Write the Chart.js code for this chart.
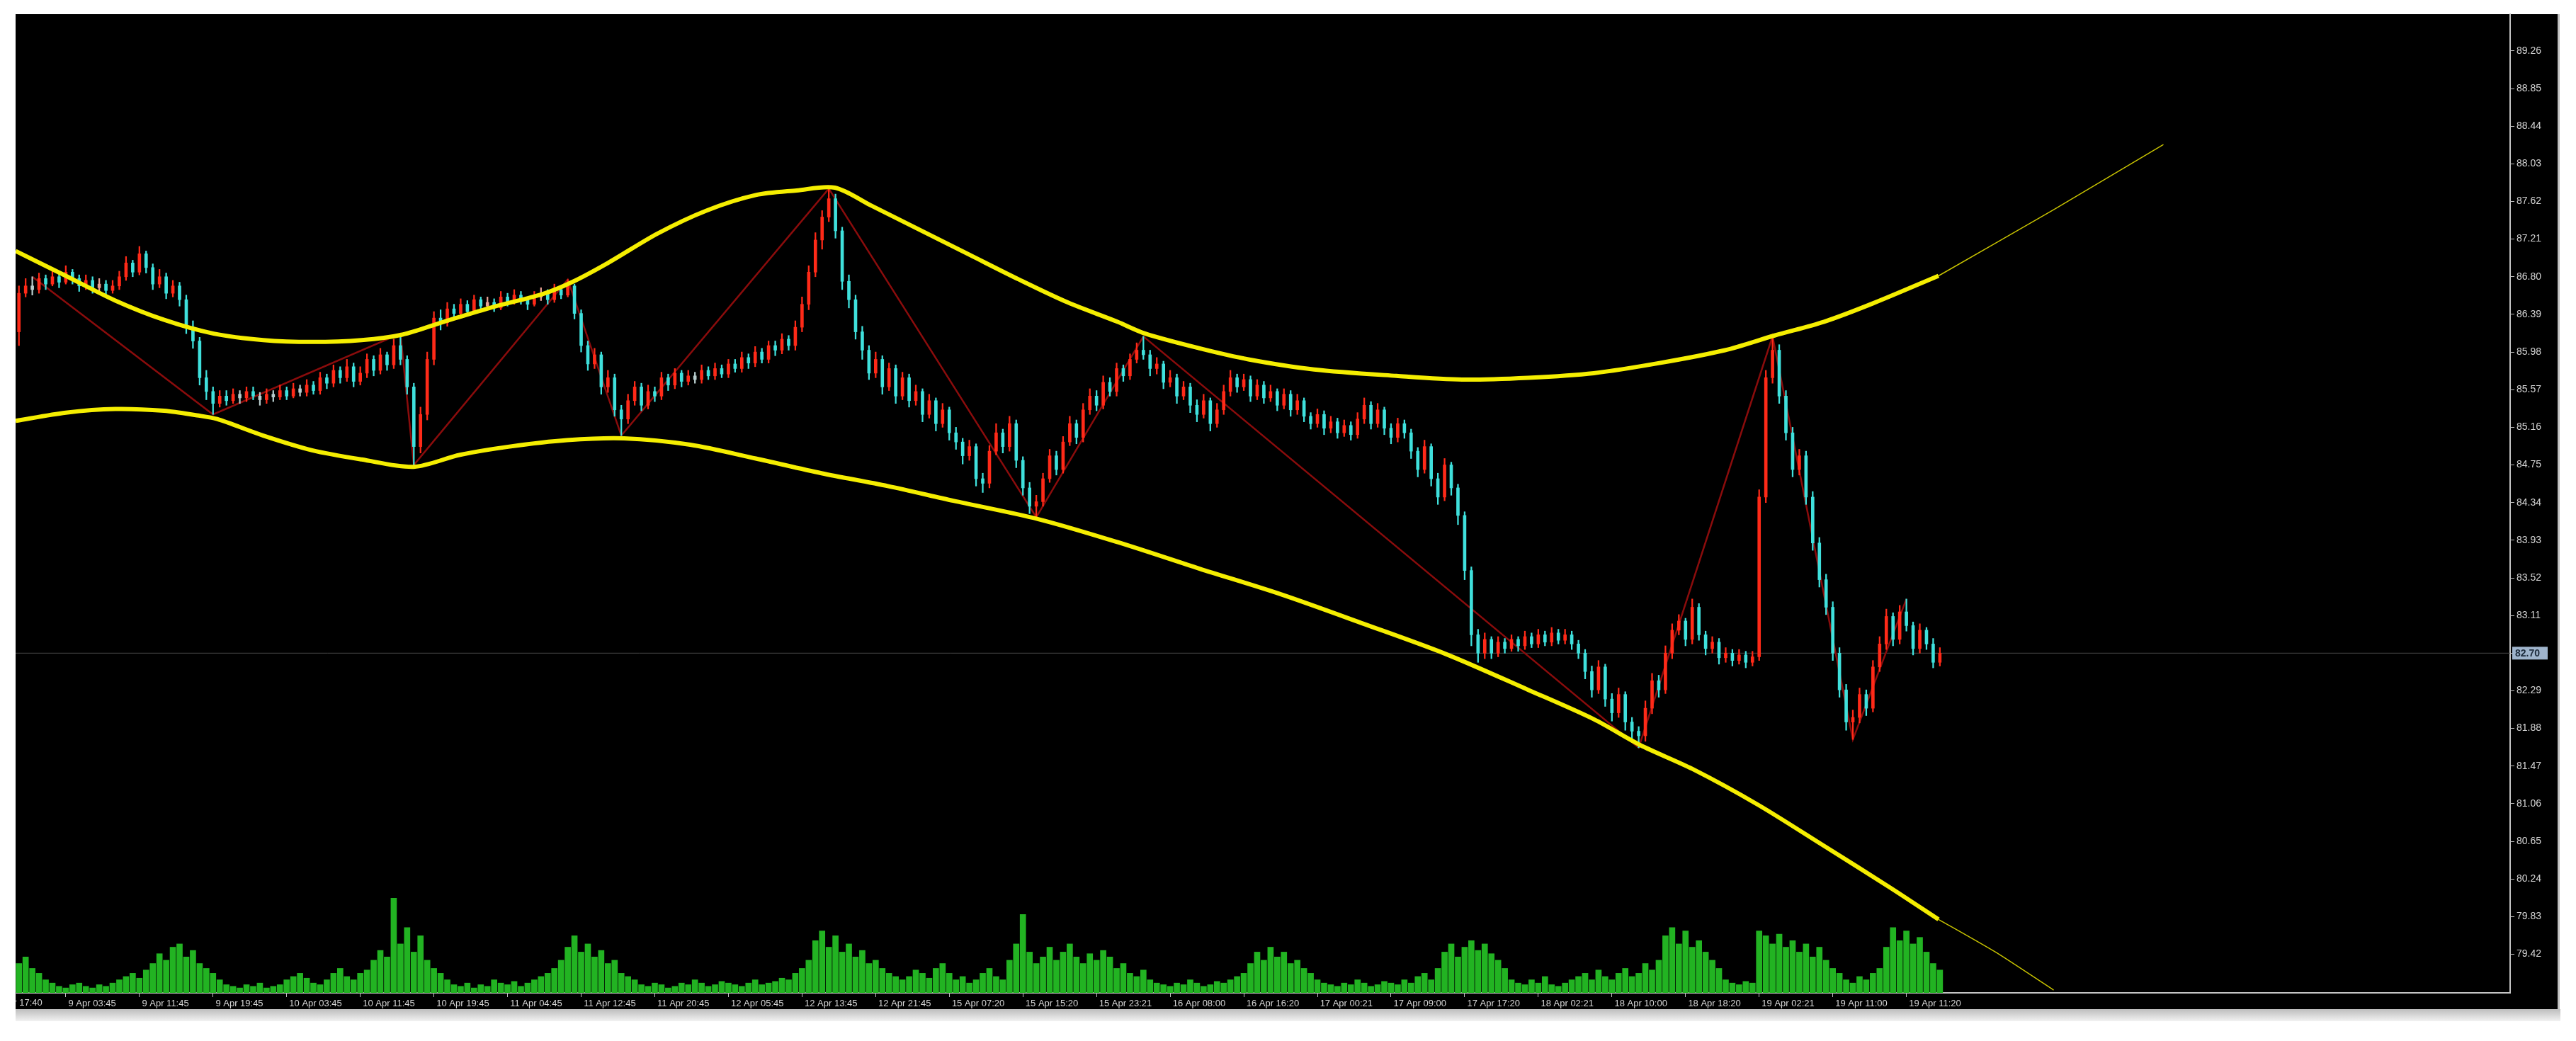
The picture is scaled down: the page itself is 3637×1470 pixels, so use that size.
<!DOCTYPE html>
<html><head><meta charset="utf-8">
<script src="https://cdn.jsdelivr.net/npm/chart.js@4.4.1/dist/chart.umd.min.js"></script>
<style>html,body{margin:0;padding:0;background:#fff;}canvas{display:block;}</style>
</head><body>
<canvas id="c" width="3637" height="1470"></canvas>
<script>
// ---------- DATA ----------
const firstOpen = 86.20;
const closes = [
86.62,86.70,86.66,86.78,86.72,86.80,86.74,86.85,86.78,86.70,
86.76,86.68,86.72,86.65,86.70,86.80,86.95,86.85,87.05,86.90,
86.72,86.80,86.62,86.70,86.55,86.25,86.10,85.70,85.55,85.42,
85.50,85.45,85.52,85.48,85.55,85.50,85.46,85.52,85.49,85.56,
85.50,85.58,85.54,85.62,85.56,85.70,85.64,85.78,85.70,85.82,
85.66,85.75,85.90,85.78,85.95,85.84,86.05,85.90,85.60,84.95,
85.30,85.90,86.35,86.30,86.45,86.40,86.50,86.42,86.55,86.48,
86.52,86.46,86.58,86.52,86.60,86.55,86.50,86.58,86.62,86.55,
86.66,86.60,86.70,86.40,86.05,85.85,85.95,85.60,85.70,85.35,
85.25,85.45,85.60,85.40,85.55,85.50,85.70,85.62,85.75,85.66,
85.72,85.68,85.78,85.72,85.80,85.74,85.85,85.80,85.92,85.86,
85.98,85.90,86.05,86.00,86.12,86.05,86.25,86.50,86.85,87.20,
87.45,87.65,87.30,86.75,86.55,86.20,86.00,85.75,85.90,85.60,
85.80,85.50,85.70,85.45,85.55,85.30,85.45,85.20,85.35,85.10,
85.00,84.85,84.95,84.60,84.55,84.90,85.10,84.95,85.20,84.80,
84.50,84.30,84.35,84.60,84.85,84.70,85.00,85.20,85.05,85.35,
85.50,85.40,85.65,85.55,85.80,85.72,85.90,86.00,85.95,85.80,
85.85,85.65,85.70,85.50,85.60,85.40,85.30,85.45,85.20,85.35,
85.55,85.70,85.60,85.68,85.50,85.62,85.48,85.55,85.40,85.52,
85.35,85.45,85.28,85.20,85.30,85.15,85.22,85.10,85.18,85.08,
85.25,85.40,85.20,85.35,85.15,85.05,85.20,85.10,84.90,84.70,
84.95,84.60,84.40,84.75,84.50,84.20,83.60,82.90,82.70,82.85,
82.70,82.82,82.75,82.85,82.78,82.88,82.80,82.90,82.82,82.92,
82.84,82.90,82.80,82.70,82.50,82.30,82.55,82.20,82.05,82.25,
81.95,81.85,81.80,82.10,82.40,82.30,82.70,82.95,83.05,82.85,
83.20,82.90,82.75,82.82,82.65,82.70,82.62,82.68,82.60,82.66,
84.40,85.70,86.00,85.50,85.10,84.70,84.85,84.40,83.90,83.50,
83.20,82.70,82.30,81.95,82.00,82.25,82.10,82.55,82.80,83.10,
82.85,83.15,83.00,82.75,82.95,82.80,82.60,82.70];
const highs = [
86.70,86.78,86.80,86.84,86.82,86.86,86.84,86.92,86.88,86.82,
86.82,86.80,86.78,86.76,86.76,86.86,87.02,86.98,87.13,87.08,
86.94,86.88,86.84,86.76,86.74,86.60,86.32,86.14,85.78,85.60,
85.56,85.56,85.58,85.56,85.60,85.60,85.54,85.58,85.56,85.62,
85.60,85.64,85.62,85.68,85.66,85.76,85.74,85.84,85.82,85.90,
85.86,85.82,85.96,85.94,86.02,85.98,86.12,86.18,85.94,85.64,
85.38,85.98,86.42,86.44,86.52,86.50,86.56,86.54,86.60,86.58,
86.58,86.56,86.64,86.62,86.66,86.64,86.58,86.64,86.68,86.66,
86.72,86.70,86.77,86.72,86.44,86.10,86.02,85.98,85.78,85.74,
85.40,85.52,85.66,85.64,85.62,85.60,85.76,85.74,85.80,85.78,
85.78,85.76,85.84,85.82,85.86,85.84,85.90,85.90,85.98,85.96,
86.04,86.02,86.10,86.10,86.18,86.16,86.32,86.58,86.92,87.28,
87.52,87.76,87.70,87.34,86.82,86.60,86.26,86.05,85.98,85.94,
85.86,85.84,85.76,85.74,85.62,85.58,85.52,85.48,85.42,85.38,
85.16,85.04,85.02,84.98,84.66,84.96,85.20,85.14,85.28,85.24,
84.84,84.56,84.42,84.66,84.92,84.90,85.06,85.28,85.24,85.42,
85.58,85.56,85.72,85.70,85.86,85.84,85.96,86.08,86.15,86.00,
85.92,85.88,85.78,85.74,85.66,85.64,85.46,85.52,85.48,85.42,
85.62,85.78,85.74,85.74,85.72,85.68,85.66,85.62,85.58,85.58,
85.56,85.52,85.48,85.32,85.36,85.34,85.28,85.26,85.24,85.22,
85.32,85.48,85.44,85.42,85.38,85.20,85.26,85.24,85.14,84.94,
85.02,84.98,84.66,84.82,84.78,84.54,84.24,83.64,82.96,82.92,
82.88,82.88,82.86,82.90,82.88,82.94,82.92,82.96,82.94,82.98,
82.96,82.96,82.94,82.84,82.74,82.56,82.62,82.58,82.26,82.32,
82.28,82.00,81.90,82.18,82.48,82.46,82.78,83.02,83.12,83.08,
83.29,83.24,82.94,82.88,82.86,82.76,82.74,82.74,82.72,82.72,
84.48,85.78,86.15,86.06,85.56,85.16,84.92,84.90,84.46,83.96,
83.56,83.26,82.76,82.36,82.08,82.32,82.30,82.62,82.88,83.18,
83.14,83.22,83.29,83.04,83.02,82.98,82.86,82.76];
const lows = [
86.05,86.58,86.60,86.62,86.66,86.70,86.68,86.72,86.72,86.64,
86.66,86.62,86.64,86.60,86.62,86.66,86.76,86.80,86.82,86.84,
86.66,86.68,86.56,86.58,86.48,86.18,86.02,85.62,85.46,85.30,
85.38,85.40,85.42,85.42,85.44,85.46,85.40,85.42,85.44,85.46,
85.46,85.48,85.50,85.50,85.52,85.52,85.58,85.60,85.64,85.66,
85.60,85.62,85.70,85.72,85.74,85.78,85.80,85.84,85.52,84.75,
84.88,85.24,85.84,86.22,86.26,86.34,86.36,86.38,86.40,86.44,
86.44,86.42,86.44,86.48,86.50,86.50,86.44,86.48,86.54,86.50,
86.52,86.56,86.58,86.34,85.98,85.78,85.80,85.52,85.54,85.28,
85.07,85.20,85.40,85.34,85.36,85.44,85.46,85.56,85.58,85.60,
85.62,85.64,85.64,85.68,85.68,85.70,85.70,85.76,85.76,85.80,
85.82,85.86,85.86,85.94,85.96,86.00,86.00,86.20,86.44,86.80,
87.10,87.40,87.22,86.66,86.46,86.12,85.90,85.68,85.70,85.52,
85.56,85.42,85.46,85.38,85.40,85.22,85.26,85.12,85.16,85.02,
84.92,84.76,84.80,84.52,84.45,84.50,84.86,84.88,84.90,84.72,
84.42,84.22,84.18,84.30,84.56,84.64,84.66,84.96,84.98,85.00,
85.30,85.34,85.36,85.50,85.50,85.66,85.68,85.86,85.90,85.72,
85.74,85.58,85.60,85.42,85.46,85.32,85.22,85.26,85.12,85.16,
85.30,85.50,85.54,85.56,85.44,85.46,85.42,85.44,85.34,85.36,
85.28,85.30,85.22,85.14,85.16,85.08,85.10,85.04,85.06,85.02,
85.04,85.20,85.14,85.16,85.08,84.98,85.00,85.04,84.82,84.62,
84.66,84.52,84.32,84.36,84.42,84.10,83.50,82.78,82.60,82.64,
82.64,82.66,82.70,82.72,82.72,82.74,82.76,82.76,82.78,82.78,
82.80,82.80,82.74,82.64,82.42,82.22,82.26,82.12,81.96,82.00,
81.86,81.76,81.67,81.74,82.04,82.22,82.26,82.64,82.90,82.78,
82.80,82.84,82.68,82.70,82.58,82.60,82.56,82.58,82.54,82.56,
82.62,84.34,85.64,85.42,85.02,84.62,84.64,84.32,83.82,83.42,
83.12,82.62,82.22,81.86,81.76,81.94,82.02,82.06,82.50,82.74,
82.78,82.80,82.94,82.68,82.70,82.74,82.54,82.56];
const volumes = [
18,22,15,12,8,6,
4,3,5,6,4,3,5,4,6,8,10,12,9,14,
18,24,20,28,30,22,26,18,15,12,8,
5,4,3,5,4,6,3,4,5,8,10,12,9,6,5,8,12,15,10,8,12,14,20,26,22,
58,30,40,25,35,20,15,12,8,
5,4,6,3,5,4,8,6,5,7,4,6,8,10,12,15,
20,28,35,25,30,22,26,18,20,12,10,8,
5,4,6,5,3,4,6,5,8,6,4,5,7,6,5,4,6,8,5,6,7,9,8,12,15,
20,32,38,28,35,25,30,22,26,18,20,15,12,10,
8,10,14,12,9,15,18,12,8,10,6,8,12,15,10,8,
20,30,48,25,18,22,28,20,25,30,22,18,24,20,26,22,15,18,12,10,14,8,6,
5,4,6,5,8,6,4,5,7,6,8,10,12,
18,25,20,28,22,25,18,20,15,12,8,
6,5,4,6,5,8,6,4,5,7,6,5,8,6,10,12,8,15,
25,30,22,28,32,26,30,24,20,15,
8,6,5,8,6,10,5,4,6,8,10,12,8,14,10,8,12,15,10,12,18,14,20,
35,40,30,38,28,32,25,20,15,
8,6,5,7,6,
38,35,30,36,28,32,25,30,22,28,20,15,12,
8,6,10,8,12,15,
28,40,32,38,30,34,25,18,14];
// yellow channel curves: [bar index, price]
const upperCurve = [[-0.5,87.08],[7,86.81],[14.4,86.54],[21.7,86.33],[29.1,86.18],[36.5,86.11],[43.8,86.09],[51.2,86.11],[57.3,86.17],[63.5,86.31],[70.8,86.47],[78.2,86.61],[82.6,86.74],[88,86.95],[95.4,87.27],[102.7,87.52],[110.1,87.69],[116.2,87.74],[121.9,87.77],[127.2,87.58],[134.6,87.31],[142,87.04],[149.4,86.77],[156.7,86.52],[164.1,86.31],[168.3,86.18],[176.4,86.02],[183.7,85.90],[193.5,85.79],[205.8,85.72],[215.6,85.68],[225.5,85.70],[235.3,85.75],[245.1,85.86],[254.9,86.00],[262.3,86.16],[269.7,86.31],[277,86.51],[286.8,86.81]];
const upperExt = [[286.8,86.81],[304,87.53],[320.4,88.24]];
const lowerCurve = [[-0.5,85.23],[7,85.32],[14.4,85.36],[21.7,85.34],[26.6,85.29],[29.6,85.25],[36.5,85.07],[43.8,84.91],[51.2,84.81],[59,84.73],[65.9,84.86],[73.3,84.95],[81.9,85.02],[90.4,85.04],[100.3,84.97],[110.1,84.82],[119.9,84.66],[129.8,84.52],[139.6,84.36],[152.3,84.16],[164.1,83.91],[176.4,83.62],[188.6,83.34],[200.9,83.02],[213.2,82.69],[225.5,82.30],[235.3,81.98],[242.2,81.70],[250,81.44],[259.8,81.05],[269.7,80.60],[279.5,80.15],[286.8,79.80]];
const lowerExt = [[286.8,79.80],[295.4,79.44],[304,79.03]];
const zigzag = [[2,86.80],[29,85.30],[57,86.18],[59,84.75],[82,86.77],[90,85.07],[121,87.76],[152,84.18],[168,86.15],[242,81.67],[262,86.15],[274,81.76],[282,83.29]];
const lastPrice = 82.70;
const yTicks = [89.26,88.85,88.44,88.03,87.62,87.21,86.80,86.39,85.98,85.57,85.16,84.75,84.34,83.93,83.52,83.11,82.70,82.29,81.88,81.47,81.06,80.65,80.24,79.83,79.42];
const xTickIndex = [-4,7,18,29,40,51,62,73,84,95,106,117,128,139,150,161,172,183,194,205,216,227,238,249,260,271,282];
const timeLabels = ["8 Apr 17:40","9 Apr 03:45","9 Apr 11:45","9 Apr 19:45","10 Apr 03:45","10 Apr 11:45","10 Apr 19:45","11 Apr 04:45","11 Apr 12:45","11 Apr 20:45","12 Apr 05:45","12 Apr 13:45","12 Apr 21:45","15 Apr 07:20","15 Apr 15:20","15 Apr 23:21","16 Apr 08:00","16 Apr 16:20","17 Apr 00:21","17 Apr 09:00","17 Apr 17:20","18 Apr 02:21","18 Apr 10:00","18 Apr 18:20","19 Apr 02:21","19 Apr 11:00","19 Apr 11:20"];

// ---------- BUILD ----------
const opens = [firstOpen].concat(closes.slice(0, -1));
const UP = '#ff2a18', DN = '#3fe0dc', UPs = '#e8a294', DNs = '#b8cccc';
const candleColor = closes.map((c, i) => {
  const d = c - opens[i];
  if (Math.abs(d) < 0.045) return d >= 0 ? UPs : DNs;
  return d > 0 ? UP : DN;
});
const bodyData = closes.map((c, i) => ({x: i, y: [opens[i], c]}));
const wickData = closes.map((c, i) => ({x: i, y: [lows[i], highs[i]]}));
const volData = volumes.map((v, i) => ({x: i, y: v}));
const pts = a => a.map(p => ({x: p[0], y: p[1]}));

const bgPlugin = {
  id: 'bg',
  beforeDraw(chart) {
    const ctx = chart.ctx;
    ctx.save();
    ctx.fillStyle = '#ffffff';
    ctx.fillRect(0, 0, chart.width, chart.height);
    ctx.fillStyle = '#000000';
    ctx.fillRect(22, 20, 3591, 1405);
    const g = ctx.createLinearGradient(0, 1425, 0, 1442);
    g.addColorStop(0, '#bdbdbd'); g.addColorStop(1, '#f2f2f2');
    ctx.fillStyle = g;
    ctx.fillRect(22, 1425, 3593, 17);
    ctx.fillStyle = '#bfbfbf';
    ctx.fillRect(3611, 20, 3, 1405);
    ctx.restore();
  },
  afterDraw(chart) {
    const ctx = chart.ctx, ys = chart.scales.y, xs = chart.scales.x;
    // first (partly hidden) time label, clipped at the left edge like the terminal does
    ctx.save();
    ctx.beginPath();
    ctx.rect(22, xs.bottom - 30, 60, 30);
    ctx.clip();
    ctx.fillStyle = '#d6d6d6';
    ctx.font = '13px "Liberation Sans"';
    ctx.textAlign = 'left';
    ctx.textBaseline = 'top';
    ctx.fillText(' ' + timeLabels[0], xs.getPixelForValue(xTickIndex[0]), xs.top + 8);
    ctx.restore();
    // current price box
    const y = ys.getPixelForValue(lastPrice);
    ctx.save();
    ctx.fillStyle = '#9fb4cc';
    ctx.fillRect(ys.left + 3, y - 9, 50, 18);
    ctx.fillStyle = '#1c2a3a';
    ctx.font = 'bold 14px "Liberation Sans"';
    ctx.textBaseline = 'middle';
    ctx.textAlign = 'left';
    ctx.fillText(lastPrice.toFixed(2), ys.left + 7, y + 1);
    ctx.restore();
  }
};

new Chart(document.getElementById('c'), {
  type: 'bar',
  data: {
    datasets: [
      {type: 'line', data: pts(upperCurve), borderColor: '#f5ee00', borderWidth: 6, pointRadius: 0, tension: 0.3, order: 1},
      {type: 'line', data: pts(lowerCurve), borderColor: '#f5ee00', borderWidth: 6, pointRadius: 0, tension: 0.3, order: 1},
      {type: 'line', data: pts(upperExt), borderColor: '#c9c400', borderWidth: 1.5, pointRadius: 0, tension: 0.2, order: 1},
      {type: 'line', data: pts(lowerExt), borderColor: '#c9c400', borderWidth: 1.5, pointRadius: 0, tension: 0.2, order: 1},
      {type: 'bar', data: bodyData, backgroundColor: candleColor, barThickness: 4, minBarLength: 2, grouped: false, order: 2},
      {type: 'bar', data: wickData, backgroundColor: candleColor, barThickness: 1.6, grouped: false, order: 3},
      {type: 'line', data: pts(zigzag), borderColor: '#8a0c0c', borderWidth: 2.5, pointRadius: 0, tension: 0, order: 4},
      {type: 'line', data: [{x: -0.5, y: lastPrice}, {x: 372.2, y: lastPrice}], borderColor: '#4a4a4a', borderWidth: 1, pointRadius: 0, order: 5},
      {type: 'bar', data: volData, yAxisID: 'yv', backgroundColor: '#22b322', barThickness: 8, grouped: false, order: 6}
    ]
  },
  options: {
    responsive: false,
    animation: false,
    devicePixelRatio: 1,
    layout: {padding: {left: 22, top: 20, right: 24, bottom: 45}},
    plugins: {legend: {display: false}, tooltip: {enabled: false}},
    scales: {
      x: {
        type: 'linear', min: -0.5, max: 372.2, offset: false,
        grid: {display: true, drawOnChartArea: false, drawTicks: true, tickLength: 6, color: '#bdbdbd', offset: false},
        border: {display: true, color: '#c4c4c4', width: 2},
        afterBuildTicks: s => { s.ticks = xTickIndex.slice(1).map(v => ({value: v})); },
        afterFit: s => { s.height = 23; },
        ticks: {
          autoSkip: false, maxRotation: 0, align: 'start', padding: 2,
          color: '#d6d6d6', font: {family: 'Liberation Sans', size: 13},
          callback: (v, i) => ' ' + timeLabels[i + 1]
        }
      },
      y: {
        position: 'right', min: 79.0, max: 89.66,
        grid: {display: true, drawOnChartArea: false, drawTicks: true, tickLength: 6, color: '#bdbdbd'},
        border: {display: true, color: '#c4c4c4', width: 2},
        afterBuildTicks: s => { s.ticks = yTicks.map(v => ({value: v})); },
        afterFit: s => { s.width = 69; },
        ticks: {
          autoSkip: false, padding: 3, color: '#d6d6d6', font: {family: 'Liberation Sans', size: 14},
          callback: v => Number(v).toFixed(2)
        }
      },
      yv: {display: false, min: 0, max: 600}
    }
  },
  plugins: [bgPlugin]
});
</script>
</body></html>
